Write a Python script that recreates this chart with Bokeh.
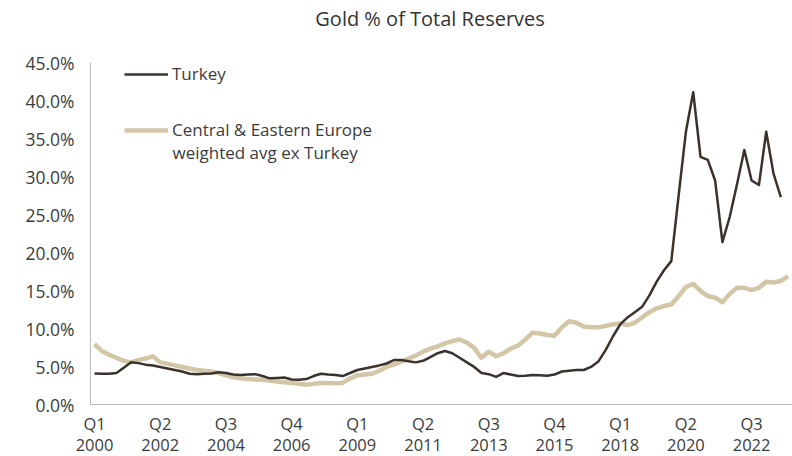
import numpy as np
from bokeh.plotting import figure
from bokeh.models import (Legend, LegendItem, FixedTicker, PrintfTickFormatter,
                          Label, ColumnDataSource)
from bokeh.embed import file_html
from bokeh.resources import INLINE

# ---------------- data ----------------
years = list(range(2000, 2024))
quarters = [f"Q{q}\n{y}" for y in years for q in (1, 2, 3, 4)]  # Q1 2000 .. Q4 2023

turkey = [4.15, 4.1, 4.1, 4.2, 4.9, 5.6, 5.5, 5.3, 5.2, 5.0,
          4.8, 4.6, 4.4, 4.1, 4.05, 4.1, 4.15, 4.3, 4.2, 4.0,
          3.95, 4.0, 4.05, 3.8, 3.5, 3.55, 3.6, 3.35, 3.3, 3.4,
          3.8, 4.1, 4.0, 3.95, 3.8, 4.2, 4.6, 4.8, 5.0, 5.2,
          5.45, 5.9, 5.9, 5.75, 5.6, 5.8, 6.3, 6.8, 7.1, 6.8,
          6.2, 5.6, 5.0, 4.2, 4.05, 3.7, 4.2, 4.0, 3.8, 3.85,
          3.95, 3.9, 3.85, 4.0, 4.4, 4.5, 4.6, 4.6, 5.0, 5.7,
          7.2, 9.0, 10.6, 11.5, 12.2, 12.9, 14.4, 16.2, 17.7, 18.9,
          27.5, 35.9, 41.1, 32.6, 32.2, 29.5, 21.4, 24.7, 29.0, 33.5,
          29.5, 28.9, 35.9, 30.4, 27.3, float("nan")]

cee = [8.0, 7.1, 6.6, 6.2, 5.8, 5.6, 5.9, 6.1, 6.4, 5.6,
       5.4, 5.2, 5.0, 4.8, 4.6, 4.5, 4.4, 4.2, 3.9, 3.65,
       3.5, 3.4, 3.35, 3.3, 3.2, 3.1, 3.0, 2.9, 2.8, 2.65,
       2.8, 2.9, 2.9, 2.85, 2.9, 3.5, 3.9, 4.0, 4.1, 4.5,
       5.0, 5.3, 5.7, 6.1, 6.5, 7.0, 7.4, 7.7, 8.1, 8.4,
       8.6, 8.2, 7.5, 6.2, 7.0, 6.4, 6.8, 7.4, 7.8, 8.6,
       9.5, 9.4, 9.2, 9.1, 10.2, 11.0, 10.8, 10.3, 10.2, 10.2,
       10.4, 10.6, 10.7, 10.5, 10.8, 11.5, 12.2, 12.7, 13.0, 13.2,
       14.3, 15.5, 15.9, 15.0, 14.3, 14.1, 13.5, 14.6, 15.4, 15.4,
       15.1, 15.4, 16.2, 16.1, 16.3, 16.9]

y_ticks = [0, 5, 10, 15, 20, 25, 30, 35, 40, 45]
x_tick_idx = list(range(0, 91, 9))

title_text = "Gold % of Total Reserves"
turkey_label = "Turkey"
cee_label_1 = "Central & Eastern Europe"
cee_label_2 = "weighted avg ex Turkey"

# ---------------- plot ----------------
FONT = "Open Sans"
TXT = "#3c3c3c"
AXIS = "#b8b8b8"

src = ColumnDataSource(dict(i=list(range(len(quarters))),
                            turkey=np.array(turkey, dtype=float),
                            cee=np.array(cee, dtype=float)))

# the frame covers the whole canvas; both axes are pinned inside it
X0, X1 = -12.88, 95.6
Y0, Y1 = -6.77, 53.15
YAXIS_AT = -0.548

p = figure(width=792, height=456, x_range=(X0, X1), y_range=(Y0, Y1),
           output_backend="svg", toolbar_location=None, title=None,
           min_border_left=0, min_border_right=0,
           min_border_top=0, min_border_bottom=0)

p.background_fill_color = "white"
p.border_fill_color = "white"
p.outline_line_color = None
p.xgrid.visible = False
p.ygrid.visible = False

r_c = p.line("i", "cee", source=src, line_color="#d3c6a7", line_width=4.5,
             line_join="round")
r_t = p.line("i", "turkey", source=src, line_color="#3b322c", line_width=2.5,
             line_join="round")

# y axis
p.yaxis.fixed_location = YAXIS_AT
p.yaxis.bounds = (0, 45)
p.yaxis.ticker = FixedTicker(ticks=y_ticks)
p.yaxis.formatter = PrintfTickFormatter(format="%.1f%%")
p.yaxis.major_tick_line_color = None
p.yaxis.major_tick_out = 0
p.yaxis.major_tick_in = 0
p.yaxis.minor_tick_line_color = None
p.yaxis.axis_line_color = AXIS
p.yaxis.major_label_standoff = 16
p.yaxis.major_label_text_font = FONT
p.yaxis.major_label_text_font_size = "17.5px"
p.yaxis.major_label_text_color = TXT

# x axis, sitting at the 0% line
p.xaxis.fixed_location = 0
p.xaxis.bounds = (YAXIS_AT, X1)
p.xaxis.ticker = FixedTicker(ticks=x_tick_idx)
p.xaxis.major_label_overrides = {i: quarters[i] for i in x_tick_idx}
p.xaxis.major_tick_line_color = None
p.xaxis.major_tick_out = 0
p.xaxis.major_tick_in = 0
p.xaxis.minor_tick_line_color = None
p.xaxis.axis_line_color = AXIS
p.xaxis.major_label_standoff = 7
p.xaxis.major_label_text_font = FONT
p.xaxis.major_label_text_font_size = "16.5px"
p.xaxis.major_label_text_color = TXT
p.xaxis.major_label_text_line_height = 0.9

legend = Legend(items=[LegendItem(label=turkey_label, renderers=[r_t]),
                       LegendItem(label=cee_label_1, renderers=[r_c])],
                location=(124, 315), orientation="vertical",
                glyph_width=44, glyph_height=22, label_height=22,
                label_standoff=4, spacing=33, padding=0, margin=0,
                border_line_color=None, background_fill_alpha=0,
                label_text_font=FONT, label_text_font_size="17px",
                label_text_color=TXT)
p.add_layout(legend)

p.add_layout(Label(x=10.68, y=33.18, text=cee_label_2, text_align="left",
                   text_baseline="middle", text_font=FONT,
                   text_font_size="17px", text_color=TXT))

p.add_layout(Label(x=45.96, y=50.78, text=title_text, text_align="center",
                   text_baseline="middle", text_font=FONT,
                   text_font_size="20px", text_color="#333333"))

open("out.html", "w").write(file_html(p, INLINE))
